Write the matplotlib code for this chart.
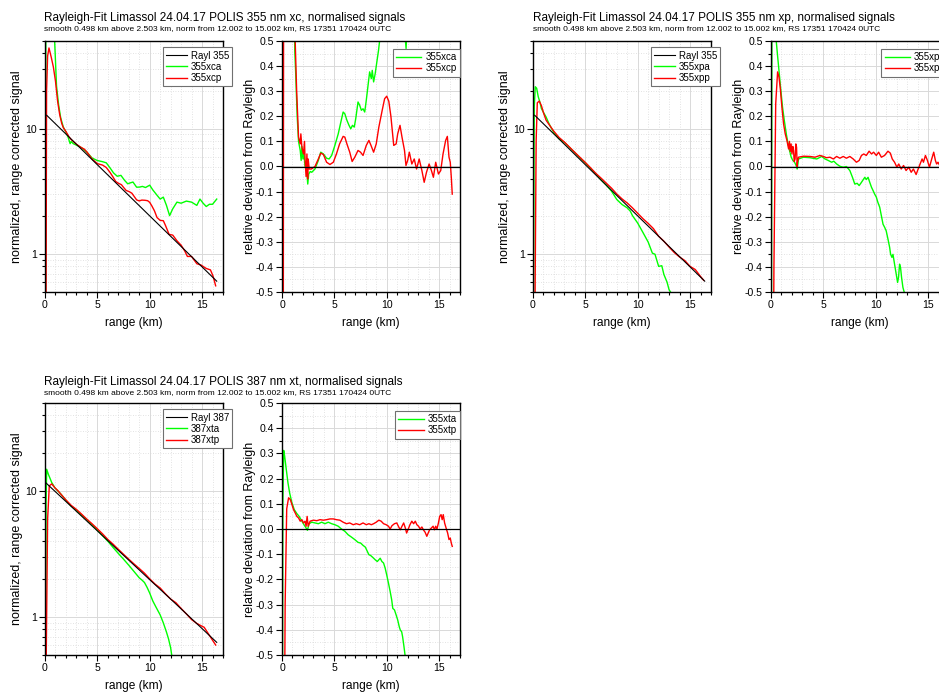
import matplotlib
matplotlib.use('Agg')
import matplotlib.pyplot as plt
from matplotlib.ticker import MultipleLocator, FixedLocator, LogLocator, NullFormatter, FormatStrFormatter

plt.rcParams['font.family'] = ['Liberation Sans', 'DejaVu Sans']
plt.rcParams['axes.unicode_minus'] = False

GREEN = '#00ff00'
RED = '#ff0000'

# ---------------- Rayleigh reference profiles ----------------
rayl355_km = [0.16, 2, 4, 6, 8, 10, 12, 14, 16.4]
rayl355 = [12.8, 9.07, 6.23, 4.28, 2.94, 2.02, 1.39, 0.956, 0.61]
rayl387_km = [0.06, 2, 4, 6, 8, 10, 12, 14, 16.4]
rayl387 = [11.67, 8.26, 5.78, 4.04, 2.83, 1.98, 1.39, 0.97, 0.63]

# ---------------- 355 nm xc: normalised signals ----------------
xca_km = [0.0, 0.05, 0.08, 0.3, 0.6, 0.9, 1.1, 1.3, 1.5, 1.75,
          2.0, 2.2, 2.4, 2.5, 2.7, 3.0, 3.5, 4.0, 4.5, 5.0,
          5.5, 5.85, 6.2, 6.55, 6.9, 7.25, 7.6, 7.9, 8.05, 8.4,
          8.75, 9.06, 9.3, 9.6, 10.0, 10.3, 10.7, 11.0, 11.3, 11.6,
          11.9, 12.2, 12.6, 13.0, 13.5, 14.0, 14.5, 14.8, 15.1, 15.4,
          15.7, 16.0, 16.4]
xca_sig = [0.3, 0.5, 80, 120, 100, 55, 22, 15.5, 12.2, 10.3,
           9.4, 8.6, 7.6, 7.9, 7.6, 7.4, 7.05, 6.5, 5.84, 5.58,
           5.46, 5.35, 4.89, 4.44, 4.18, 4.25, 3.88, 3.64, 3.68, 3.76,
           3.42, 3.43, 3.47, 3.4, 3.55, 3.25, 2.95, 2.75, 2.85, 2.45,
           2.03, 2.3, 2.6, 2.55, 2.65, 2.6, 2.45, 2.75, 2.55, 2.4,
           2.5, 2.5, 2.75]
xcp_km = [0.0, 0.1, 0.15, 0.25, 0.38, 0.6, 0.8, 1.0, 1.2, 1.4,
          1.6, 1.75, 2.0, 2.3, 2.5, 3.0, 3.5, 3.75, 4.0, 4.5,
          5.0, 5.5, 5.85, 6.2, 6.5, 6.75, 7.0, 7.3, 7.5, 7.75,
          8.05, 8.3, 8.75, 9.0, 9.25, 9.55, 9.8, 10.0, 10.2, 10.45,
          10.7, 11.0, 11.3, 11.5, 11.85, 12.2, 12.6, 13.0, 13.35, 13.6,
          14.0, 14.5, 14.9, 15.4, 15.8, 16.05, 16.3]
xcp_sig = [0.3, 0.4, 20, 38, 44, 37, 31, 24, 16.7, 13,
           11.0, 10.2, 9.5, 8.6, 8.2, 7.52, 7.05, 6.88, 6.53, 5.73,
           5.27, 5.13, 4.91, 4.5, 4.12, 3.8, 3.68, 3.58, 3.41, 3.22,
           3.15, 3.06, 2.71, 2.66, 2.7, 2.69, 2.67, 2.59, 2.43, 2.22,
           1.96, 1.86, 1.85, 1.7, 1.44, 1.42, 1.28, 1.18, 1.06, 0.96,
           0.96, 0.84, 0.82, 0.77, 0.75, 0.67, 0.56]

# ---------------- 355 nm xc: deviation from Rayleigh ----------------
xca_dev_km = [0.0, 0.04, 0.08, 1.15, 1.22, 1.3, 1.45, 1.58, 1.74, 1.83,
              1.9, 2.0, 2.1, 2.2, 2.3, 2.37, 2.46, 2.55, 2.7, 2.84,
              3.15, 3.47, 3.7, 3.95, 4.26, 4.5, 4.74, 5.05, 5.37, 5.62,
              5.84, 6.0, 6.2, 6.4, 6.57, 6.73, 6.9, 7.04, 7.26, 7.42,
              7.58, 7.74, 7.9, 8.05, 8.2, 8.37, 8.53, 8.62, 8.75, 8.9,
              9.06, 9.22, 9.4, 10.0, 10.5, 11.0, 11.5, 11.75, 11.85, 12.0,
              12.5, 13.0, 14.0, 15.0, 16.0, 16.4]
xca_dev = [-1.0, -0.6, 3.0, 0.75, 0.46, 0.38, 0.2, 0.1, 0.064, 0.024,
           0.08, 0.03, 0.05, 0.0, 0.02, -0.023, -0.07, -0.03, -0.02, -0.023,
           -0.01, 0.024, 0.057, 0.05, 0.033, 0.03, 0.044, 0.084, 0.13, 0.177,
           0.217, 0.21, 0.184, 0.164, 0.15, 0.164, 0.157, 0.19, 0.257, 0.244,
           0.224, 0.23, 0.217, 0.264, 0.317, 0.377, 0.35, 0.383, 0.337, 0.37,
           0.417, 0.463, 0.53, 0.76, 0.6, 0.64, 0.6, 0.52, 0.47, 0.6,
           0.95, 1.2, 1.7, 2.2, 2.8, 3.5]
xcp_dev_km = [0.0, 0.12, 0.18, 1.0, 1.26, 1.4, 1.58, 1.74, 1.8, 1.9,
              2.05, 2.15, 2.2, 2.3, 2.38, 2.45, 2.5, 2.6, 2.8, 3.15,
              3.47, 3.7, 3.95, 4.26, 4.58, 4.9, 5.2, 5.5, 5.84, 6.0,
              6.2, 6.47, 6.7, 6.95, 7.26, 7.5, 7.74, 8.05, 8.3, 8.5,
              8.75, 9.0, 9.25, 9.57, 9.8, 10.0, 10.2, 10.4, 10.67, 10.9,
              11.05, 11.27, 11.46, 11.7, 11.84, 12.0, 12.16, 12.4, 12.63, 12.85,
              13.1, 13.36, 13.58, 13.8, 14.05, 14.27, 14.46, 14.68, 14.94, 15.16,
              15.38, 15.63, 15.79, 15.95, 16.07, 16.17, 16.26]
xcp_dev = [-1.0, -0.9, 2.0, 1.2, 0.5, 0.3, 0.117, 0.09, 0.13, 0.077,
           0.05, 0.1, 0.03, -0.04, 0.05, -0.05, 0.03, -0.01, -0.01, 0.0,
           0.03, 0.053, 0.048, 0.017, 0.008, 0.017, 0.05, 0.09, 0.12, 0.117,
           0.09, 0.057, 0.02, 0.037, 0.064, 0.057, 0.044, 0.084, 0.104, 0.084,
           0.057, 0.09, 0.157, 0.224, 0.27, 0.28, 0.26, 0.2, 0.084, 0.09,
           0.13, 0.164, 0.117, 0.064, 0.004, 0.024, 0.057, 0.01, 0.03, -0.01,
           0.03, -0.016, -0.063, -0.023, 0.01, -0.016, -0.043, 0.017, -0.03, -0.016,
           0.05, 0.104, 0.12, 0.037, 0.017, -0.043, -0.11]

# ---------------- 355 nm xp: normalised signals ----------------
xpa_km = [0.0, 0.05, 0.12, 0.22, 0.35, 0.5, 0.63, 0.8, 1.0, 1.25,
          1.5, 1.75, 2.0, 2.5, 3.0, 3.5, 4.0, 4.5, 5.0, 5.5,
          6.0, 6.5, 7.0, 7.5, 8.0, 8.5, 9.0, 9.3, 9.5, 10.0,
          10.5, 11.0, 11.4, 11.65, 12.0, 12.3, 12.5, 12.8, 13.0, 13.5,
          14.0, 15.0, 16.0]
xpa_sig = [0.3, 0.5, 15, 21.6, 21.0, 18.0, 16.6, 14.5, 13.5, 12.4,
           11.1, 10.1, 9.3, 8.3, 7.78, 7.08, 6.44, 5.84, 5.35, 4.82,
           4.37, 3.91, 3.55, 3.18, 2.73, 2.49, 2.34, 2.2, 2.03, 1.77,
           1.49, 1.25, 1.02, 1.0, 0.80, 0.81, 0.69, 0.6, 0.52, 0.45,
           0.36, 0.25, 0.17]
xpp_km = [0.0, 0.2, 0.3, 0.41, 0.6, 0.8, 1.0, 1.25, 1.5, 2.0,
          2.5, 3.0, 3.5, 4.0, 4.5, 5.0, 5.5, 6.0, 6.5, 7.0,
          7.5, 8.0, 8.5, 9.0, 9.5, 10.0, 10.5, 11.0, 11.5, 12.0,
          12.5, 13.0, 13.5, 14.0, 14.5, 15.0, 15.5, 16.0, 16.3]
xpp_sig = [0.3, 0.5, 8.0, 16.1, 16.6, 15.3, 13.4, 11.7, 10.9, 9.52,
           8.5, 7.83, 7.12, 6.47, 5.9, 5.38, 4.88, 4.41, 4.04, 3.68,
           3.36, 3.02, 2.76, 2.56, 2.34, 2.12, 1.92, 1.76, 1.6, 1.39,
           1.27, 1.14, 1.03, 0.95, 0.89, 0.80, 0.755, 0.665, 0.62]

# ---------------- 355 nm xp: deviation from Rayleigh ----------------
xpa_dev_km = [0.0, 0.04, 0.1, 0.22, 0.35, 0.5, 0.63, 0.79, 0.95, 1.1,
              1.27, 1.46, 1.6, 1.77, 1.93, 2.09, 2.25, 2.4, 2.5, 2.63,
              3.1, 3.73, 4.37, 4.84, 5.16, 5.47, 5.79, 6.0, 6.27, 6.58,
              6.9, 7.2, 7.53, 7.78, 8.0, 8.23, 8.42, 8.64, 8.96, 9.1,
              9.27, 9.43, 9.6, 9.75, 9.9, 10.06, 10.2, 10.38, 10.54, 10.7,
              10.85, 11.0, 11.17, 11.33, 11.42, 11.55, 11.65, 11.8, 11.96, 12.09,
              12.18, 12.28, 12.37, 12.47, 12.6, 12.72, 13.0, 14.0, 15.0, 16.0,
              16.3]
xpa_dev = [-1.0, -0.7, 1.0, 0.71, 0.68, 0.5, 0.44, 0.37, 0.3, 0.237,
           0.184, 0.13, 0.097, 0.064, 0.037, 0.024, 0.017, 0.004, -0.01, 0.03,
           0.037, 0.035, 0.03, 0.04, 0.03, 0.024, 0.017, 0.021, 0.01, 0.001,
           -0.003, 0.0, -0.016, -0.043, -0.07, -0.067, -0.076, -0.063, -0.043, -0.052,
           -0.043, -0.063, -0.083, -0.096, -0.11, -0.122, -0.142, -0.162, -0.196, -0.23,
           -0.242, -0.256, -0.289, -0.322, -0.349, -0.362, -0.35, -0.389, -0.429, -0.462,
           -0.442, -0.389, -0.402, -0.442, -0.482, -0.5, -0.55, -0.65, -0.75, -0.85,
           -0.88]
xpp_dev_km = [0.0, 0.2, 0.28, 0.45, 0.63, 0.76, 0.89, 1.04, 1.2, 1.36,
              1.52, 1.68, 1.76, 1.84, 1.92, 2.0, 2.08, 2.15, 2.22, 2.3,
              2.37, 2.44, 2.5, 2.53, 2.63, 3.1, 3.73, 4.2, 4.68, 5.0,
              5.3, 5.63, 5.95, 6.27, 6.58, 6.9, 7.2, 7.53, 7.85, 8.16,
              8.42, 8.64, 8.86, 9.1, 9.37, 9.6, 9.8, 10.06, 10.28, 10.54,
              10.85, 11.17, 11.4, 11.58, 11.8, 12.03, 12.2, 12.44, 12.66, 12.9,
              13.16, 13.39, 13.6, 13.86, 14.0, 14.24, 14.43, 14.56, 14.75, 14.94,
              15.13, 15.35, 15.54, 15.7, 15.82, 15.95, 16.1, 16.3]
xpp_dev = [-1.0, -0.97, -0.4, 0.25, 0.377, 0.357, 0.31, 0.237, 0.17, 0.13,
           0.104, 0.07, 0.1, 0.06, 0.09, 0.05, 0.08, 0.064, 0.02, 0.03,
           0.09, 0.077, 0.0, 0.017, 0.037, 0.041, 0.04, 0.037, 0.044, 0.04,
           0.035, 0.037, 0.03, 0.04, 0.033, 0.04, 0.033, 0.04, 0.03, 0.017,
           0.024, 0.044, 0.05, 0.044, 0.061, 0.05, 0.057, 0.044, 0.057, 0.037,
           0.044, 0.061, 0.053, 0.03, 0.017, -0.003, 0.01, -0.01, 0.004, -0.016,
           -0.003, -0.023, -0.01, -0.032, -0.016, 0.01, 0.03, 0.017, 0.044, 0.024,
           -0.003, 0.03, 0.057, 0.024, 0.01, 0.017, 0.005, 0.0]

# ---------------- 387 nm xt: normalised signals ----------------
xta_km = [0.0, 0.06, 0.1, 0.16, 0.32, 0.64, 0.95, 1.5, 2.0, 2.5,
          3.0, 3.5, 4.0, 4.5, 5.0, 5.5, 6.0, 6.5, 7.0, 7.5,
          8.0, 8.5, 9.0, 9.25, 9.5, 9.75, 10.0, 10.3, 10.6, 11.0,
          11.3, 11.6, 11.8, 12.0, 12.1, 12.5, 13.0, 14.0, 15.0, 16.0]
xta_sig = [0.3, 0.5, 8, 14.9, 13.6, 11.7, 10.6, 9.5, 8.45, 7.6,
           7.08, 6.45, 5.92, 5.41, 4.91, 4.43, 4.0, 3.57, 3.2, 2.88,
           2.58, 2.3, 2.05, 1.97, 1.88, 1.72, 1.55, 1.34, 1.2, 1.04,
           0.9, 0.76, 0.67, 0.57, 0.5, 0.42, 0.36, 0.28, 0.21, 0.16]
xtp_km = [0.0, 0.12, 0.25, 0.41, 0.64, 0.95, 1.25, 1.5, 2.0, 2.5,
          3.0, 3.5, 4.0, 4.5, 5.0, 5.5, 6.0, 6.5, 7.0, 7.5,
          8.0, 8.5, 9.0, 9.5, 10.0, 10.5, 11.0, 11.5, 12.0, 12.5,
          13.0, 13.5, 14.0, 14.5, 15.0, 15.2, 15.5, 16.0, 16.3]
xtp_sig = [0.3, 0.5, 6, 11.0, 11.4, 10.6, 10.04, 9.48, 8.5, 7.7,
           7.15, 6.55, 5.98, 5.49, 5.02, 4.57, 4.13, 3.79, 3.45, 3.15,
           2.88, 2.64, 2.43, 2.23, 2.01, 1.83, 1.70, 1.53, 1.39, 1.30,
           1.17, 1.06, 0.955, 0.89, 0.845, 0.83, 0.76, 0.655, 0.6]

# ---------------- 387 nm xt: deviation from Rayleigh ----------------
xta_dev_km = [0.0, 0.04, 0.08, 0.16, 0.25, 0.41, 0.57, 0.73, 0.95, 1.17,
              1.42, 1.64, 1.9, 2.1, 2.3, 2.43, 2.52, 2.59, 2.84, 3.16,
              3.47, 3.79, 4.1, 4.42, 4.74, 5.05, 5.37, 5.68, 6.0, 6.32,
              6.63, 6.95, 7.26, 7.52, 7.74, 7.96, 8.15, 8.3, 8.46, 8.68,
              8.9, 9.1, 9.25, 9.38, 9.54, 9.7, 9.85, 10.0, 10.17, 10.33,
              10.48, 10.58, 10.74, 10.9, 11.05, 11.2, 11.3, 11.43, 11.52, 11.65,
              11.75, 12.0, 13.0, 14.0, 15.0, 16.0]
xta_dev = [-1.0, -0.8, 0.1, 0.312, 0.29, 0.236, 0.183, 0.143, 0.104, 0.077,
           0.061, 0.05, 0.031, 0.017, 0.004, -0.005, 0.01, 0.021, 0.027, 0.024,
           0.021, 0.027, 0.021, 0.027, 0.021, 0.017, 0.011, 0.0, -0.009, -0.023,
           -0.032, -0.042, -0.053, -0.056, -0.065, -0.072, -0.089, -0.102, -0.105, -0.113,
           -0.122, -0.129, -0.122, -0.116, -0.129, -0.135, -0.155, -0.182, -0.215, -0.248,
           -0.282, -0.315, -0.321, -0.341, -0.361, -0.388, -0.401, -0.408, -0.428, -0.467,
           -0.5, -0.55, -0.65, -0.72, -0.8, -0.85]
xtp_dev_km = [0.0, 0.22, 0.3, 0.45, 0.63, 0.79, 0.95, 1.1, 1.26, 1.42,
              1.58, 1.74, 1.9, 2.05, 2.2, 2.3, 2.4, 2.5, 2.68, 3.0,
              3.32, 3.63, 3.95, 4.26, 4.58, 4.9, 5.2, 5.53, 5.84, 6.16,
              6.47, 6.8, 7.1, 7.42, 7.74, 8.05, 8.3, 8.53, 8.75, 9.0,
              9.25, 9.47, 9.7, 9.95, 10.17, 10.33, 10.5, 10.74, 10.96, 11.15,
              11.3, 11.46, 11.62, 11.78, 11.9, 12.06, 12.22, 12.4, 12.57, 12.73,
              12.88, 13.04, 13.2, 13.36, 13.5, 13.67, 13.83, 13.96, 14.1, 14.27,
              14.43, 14.56, 14.68, 14.8, 14.94, 15.06, 15.19, 15.3, 15.4, 15.53,
              15.7, 15.82, 15.95, 16.07, 16.17, 16.26]
xtp_dev = [-1.0, -0.9, -0.3, 0.08, 0.124, 0.117, 0.097, 0.077, 0.064, 0.05,
           0.044, 0.031, 0.037, 0.024, 0.031, 0.011, 0.05, 0.011, 0.031, 0.035,
           0.033, 0.037, 0.035, 0.037, 0.04, 0.04, 0.037, 0.035, 0.027, 0.021,
           0.024, 0.017, 0.021, 0.017, 0.024, 0.017, 0.021, 0.017, 0.021, 0.027,
           0.035, 0.031, 0.021, 0.017, 0.011, 0.0, 0.013, 0.021, 0.024, 0.008,
           -0.003, 0.011, 0.024, 0.004, -0.016, 0.0, 0.017, 0.031, 0.021, 0.031,
           0.017, 0.011, 0.0, 0.008, -0.003, -0.013, -0.029, -0.016, -0.003, 0.004,
           0.011, -0.003, 0.011, 0.0, 0.024, 0.05, 0.057, 0.037, 0.057, 0.024,
           0.0, -0.016, -0.042, -0.036, -0.056, -0.069]

SUBTITLE = ('smooth 0.498 km above 2.503 km, norm from 12.002 to 15.002 km, '
            'RS 17351 170424 0UTC')

W, H = 939, 692
fig = plt.figure(figsize=(W / 100, H / 100), dpi=100)


def box(x0, y0, x1, y1):
    # pixel box (top-left origin) -> figure fraction rect
    return [x0 / W, 1 - y1 / H, (x1 - x0) / W, (y1 - y0) / H]


def common_style(ax):
    ax.set_xlim(0, 17)
    ax.xaxis.set_major_locator(MultipleLocator(5))
    ax.xaxis.set_minor_locator(MultipleLocator(1))
    ax.tick_params(which='both', direction='out', top=False, right=False,
                   labelsize=7.6, width=0.8, pad=2, colors='black')
    ax.tick_params(which='major', length=4)
    ax.tick_params(which='minor', length=2)
    ax.grid(which='major', color='#d9d9d9', lw=0.7)
    ax.grid(which='minor', color='#d9d9d9', lw=0.6, ls=(0, (1, 2)))
    ax.set_axisbelow(True)
    for sp in ax.spines.values():
        sp.set_linewidth(1.0)
    ax.set_xlabel('range (km)', fontsize=8.6, labelpad=5)


def add_legend(ax, right, top, handlelength):
    leg = ax.legend(loc='upper right', bbox_to_anchor=(right, top),
                    borderaxespad=0, fontsize=7.0, fancybox=False,
                    framealpha=1, labelspacing=0.12, borderpad=0.35,
                    handlelength=handlelength, handletextpad=0.4)
    leg.get_frame().set_edgecolor('#707070')
    leg.get_frame().set_linewidth(0.8)
    leg.set_zorder(6)


def signal_panel(rect, rayl_km, rayl, rayl_label, curves):
    ax = fig.add_axes(rect)
    common_style(ax)
    ax.set_yscale('log')
    ax.set_ylim(0.5, 50)
    ax.yaxis.set_major_locator(FixedLocator([1, 10]))
    ax.yaxis.set_major_formatter(FormatStrFormatter('%g'))
    ax.yaxis.set_minor_locator(LogLocator(base=10, subs=range(2, 10)))
    ax.yaxis.set_minor_formatter(NullFormatter())
    ax.plot(rayl_km, rayl, color='black', lw=0.8, label=rayl_label, zorder=4)
    for km, vals, col, lab in curves:
        ax.plot(km, vals, color=col, lw=1.0, label=lab)
    ax.set_ylabel('normalized, range corrected signal', fontsize=9.0, labelpad=1.5)
    # the legend box reaches a little past the right spine
    add_legend(ax, 1.053, 0.975, 2.1)
    return ax


def deviation_panel(rect, curves):
    ax = fig.add_axes(rect)
    common_style(ax)
    ax.set_ylim(-0.5, 0.5)
    ax.yaxis.set_major_locator(MultipleLocator(0.1))
    ax.yaxis.set_minor_locator(MultipleLocator(0.05))
    ax.yaxis.set_major_formatter(FormatStrFormatter('%.1f'))
    for km, vals, col, lab in curves:
        ax.plot(km, vals, color=col, lw=1.0, label=lab)
    ax.axhline(0, color='black', lw=0.9, zorder=4)
    ax.set_ylabel('relative deviation from Rayleigh', fontsize=9.0, labelpad=-0.5)
    add_legend(ax, 1.0, 0.969, 2.6)
    return ax


def header(x, y, text):
    fig.text(x / W, 1 - y / H, text, fontsize=8.5, va='baseline')
    fig.text(x / W, 1 - (y + 9) / H, SUBTITLE, fontsize=6.0, va='baseline')


# 355 nm xc
header(44, 21.5, 'Rayleigh-Fit Limassol 24.04.17 POLIS 355 nm xc, normalised signals')
signal_panel(box(45, 41, 223, 292), rayl355_km, rayl355, 'Rayl 355',
             [(xca_km, xca_sig, GREEN, '355xca'), (xcp_km, xcp_sig, RED, '355xcp')])
deviation_panel(box(282, 41, 460, 292),
                [(xca_dev_km, xca_dev, GREEN, '355xca'), (xcp_dev_km, xcp_dev, RED, '355xcp')])

# 355 nm xp
header(533, 21.5, 'Rayleigh-Fit Limassol 24.04.17 POLIS 355 nm xp, normalised signals')
signal_panel(box(533, 41, 711, 292), rayl355_km, rayl355, 'Rayl 355',
             [(xpa_km, xpa_sig, GREEN, '355xpa'), (xpp_km, xpp_sig, RED, '355xpp')])
deviation_panel(box(771, 41, 949, 292),
                [(xpa_dev_km, xpa_dev, GREEN, '355xpa'), (xpp_dev_km, xpp_dev, RED, '355xpp')])

# 387 nm xt
header(44, 385.5, 'Rayleigh-Fit Limassol 24.04.17 POLIS 387 nm xt, normalised signals')
signal_panel(box(45, 403, 223, 655), rayl387_km, rayl387, 'Rayl 387',
             [(xta_km, xta_sig, GREEN, '387xta'), (xtp_km, xtp_sig, RED, '387xtp')])
deviation_panel(box(282, 403, 460, 655),
                [(xta_dev_km, xta_dev, GREEN, '355xta'), (xtp_dev_km, xtp_dev, RED, '355xtp')])

fig.savefig('out.png', dpi=100)
